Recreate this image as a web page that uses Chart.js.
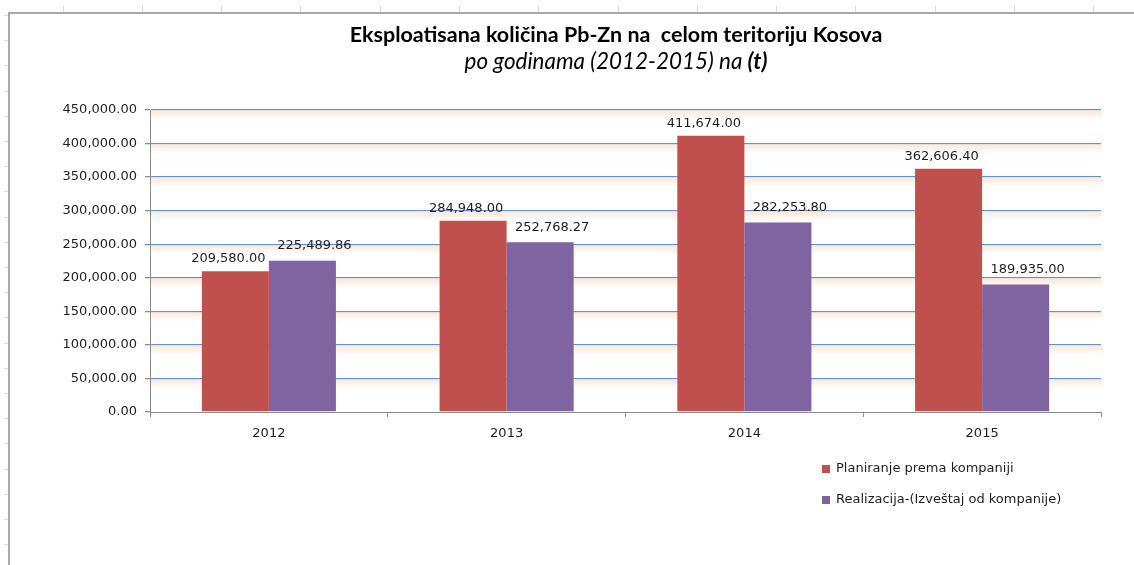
<!DOCTYPE html>
<html>
<head>
<meta charset="utf-8">
<title>Eksploatisana količina Pb-Zn</title>
<script src="https://cdn.jsdelivr.net/npm/chart.js@4/dist/chart.umd.min.js"></script>
<style>
    html, body { margin: 0; padding: 0; background: #ffffff; }
    #wrap { position: relative; width: 1134px; height: 565px; }
</style>
</head>
<body>
<div id="wrap"><canvas id="pbznChart"></canvas></div>
<script>
// === DATA ===
const godine = ['2012', '2013', '2014', '2015'];
const planiranje = [209580.00, 284948.00, 411674.00, 362606.40];
const realizacija = [225489.86, 252768.27, 282253.80, 189935.00];
const serieNazivi = ['Planiranje prema kompaniji', 'Realizacija-(Izveštaj od kompanije)'];
const naslov = 'Eksploatisana količina Pb-Zn na  celom teritoriju Kosova';
const podnaslov = 'po godinama (2012-2015) na ';
const podnaslovJedinica = '(t)';
const yMax = 450000;
const yKorak = 50000;

const boje = ['#C0504D', '#8064A2'];
const FONT = '"DejaVu Sans", sans-serif';
const TITLE_FONT = 'Lato, "Noto Sans", sans-serif';
const TEXT_COLOR = '#1f1f1f';
// labels in the original sit a little off the bar centre, per series
const labelPomak = [{ dx: -7, dy: 6 }, { dx: 12, dy: 8.5 }];

function fmt(v) {
    return v.toLocaleString('en-US', { minimumFractionDigits: 2, maximumFractionDigits: 2 });
}

// font size that makes the text about as wide as in the picture
function fitSize(ctx, parts, target) {
    let w = 0;
    parts.forEach(p => { ctx.font = p.style + ' 20px ' + TITLE_FONT; w += ctx.measureText(p.text).width; });
    return 20 * target / w;
}

// === PLUGIN: frame, title, glow under gridlines, value labels, legend ===
const excelLook = {
    id: 'excelLook',
    beforeDraw(chart) {
        const ctx = chart.ctx;
        ctx.save();
        // document frame + ruler ticks
        ctx.strokeStyle = '#dadada'; ctx.lineWidth = 1;
        for (let x = 62.5; x < chart.width; x += 79.3) {
            ctx.beginPath(); ctx.moveTo(Math.round(x) + 0.5, 6); ctx.lineTo(Math.round(x) + 0.5, 12); ctx.stroke();
        }
        for (let y = 15; y < chart.height; y += 25.2) {
            ctx.beginPath(); ctx.moveTo(4, Math.round(y) + 0.5); ctx.lineTo(8, Math.round(y) + 0.5); ctx.stroke();
        }
        ctx.strokeStyle = '#a8a8a8'; ctx.lineWidth = 2;
        ctx.beginPath(); ctx.moveTo(chart.width, 13); ctx.lineTo(9, 13); ctx.lineTo(9, chart.height); ctx.stroke();

        // title + subtitle
        const cx = 616;
        ctx.fillStyle = '#000000';
        ctx.textBaseline = 'middle';
        ctx.textAlign = 'center';
        const s1 = fitSize(ctx, [{ style: 'bold', text: naslov }], 533);
        ctx.font = 'bold ' + s1 + 'px ' + TITLE_FONT;
        ctx.fillText(naslov, cx, 35);

        const s2 = fitSize(ctx, [{ style: 'italic', text: podnaslov }, { style: 'italic bold', text: podnaslovJedinica }], 303);
        ctx.font = 'italic ' + s2 + 'px ' + TITLE_FONT;
        const w1 = ctx.measureText(podnaslov).width;
        ctx.font = 'italic bold ' + s2 + 'px ' + TITLE_FONT;
        const w2 = ctx.measureText(podnaslovJedinica).width;
        const start = cx - (w1 + w2) / 2;
        ctx.textAlign = 'left';
        ctx.font = 'italic ' + s2 + 'px ' + TITLE_FONT;
        ctx.fillText(podnaslov, start, 62);
        ctx.font = 'italic bold ' + s2 + 'px ' + TITLE_FONT;
        ctx.fillText(podnaslovJedinica, start + w1, 62);
        ctx.restore();
    },
    beforeDatasetsDraw(chart) {
        // soft peach glow under each gridline
        const ctx = chart.ctx, area = chart.chartArea, y = chart.scales.y;
        ctx.save();
        y.ticks.forEach(t => {
            if (t.value === 0) return;
            const py = y.getPixelForValue(t.value);
            const g = ctx.createLinearGradient(0, py + 1, 0, py + 10);
            g.addColorStop(0, 'rgba(252, 213, 185, 0.55)');
            g.addColorStop(1, 'rgba(252, 213, 185, 0)');
            ctx.fillStyle = g;
            ctx.fillRect(area.left + 1, py + 1, area.right - area.left, 9);
        });
        ctx.restore();
    },
    afterDatasetsDraw(chart) {
        const ctx = chart.ctx;
        ctx.save();
        ctx.font = '13px ' + FONT;
        ctx.fillStyle = TEXT_COLOR;
        ctx.textAlign = 'center'; ctx.textBaseline = 'bottom';
        chart.data.datasets.forEach((ds, i) => {
            const p = labelPomak[i];
            chart.getDatasetMeta(i).data.forEach((bar, j) => {
                ctx.fillText(fmt(ds.data[j]), bar.x + p.dx, bar.y - p.dy);
            });
        });
        // legend
        ctx.textAlign = 'left'; ctx.textBaseline = 'middle';
        chart.data.datasets.forEach((ds, i) => {
            const ly = 469 + i * 31;
            ctx.fillStyle = ds.backgroundColor;
            ctx.fillRect(822, ly - 4, 8, 8);
            ctx.fillStyle = TEXT_COLOR;
            ctx.fillText(ds.label, 836, ly);
        });
        ctx.restore();
    }
};

// === CHART ===
const ctx = document.getElementById('pbznChart').getContext('2d');
new Chart(ctx, {
    type: 'bar',
    data: {
        labels: godine,
        datasets: [
            { label: serieNazivi[0], data: planiranje, backgroundColor: boje[0] },
            { label: serieNazivi[1], data: realizacija, backgroundColor: boje[1] }
        ]
    },
    options: {
        responsive: true,
        maintainAspectRatio: false,
        animation: false,
        events: [],
        layout: { padding: { top: 110, right: 33, bottom: 0, left: 0 } },
        datasets: { bar: { barPercentage: 1, categoryPercentage: 0.564 } },
        scales: {
            x: {
                grid: { offset: true, drawOnChartArea: false, drawTicks: true, tickLength: 5, tickColor: '#8c8c8c' },
                border: { color: '#8c8c8c', width: 1 },
                ticks: { color: TEXT_COLOR, font: { family: FONT, size: 13 }, padding: 9, maxRotation: 0 },
                afterFit(scale) { scale.height = 153; }
            },
            y: {
                min: 0, max: yMax,
                grid: {
                    color: c => c.tick && c.tick.value === 0 ? 'rgba(0,0,0,0)' : '#6592d0',
                    lineWidth: 1.3, tickLength: 5, tickColor: '#8c8c8c'
                },
                border: { color: '#8c8c8c', width: 1 },
                ticks: {
                    stepSize: yKorak, padding: 8, color: TEXT_COLOR,
                    font: { family: FONT, size: 13 },
                    callback: v => fmt(v)
                },
                afterFit(scale) { scale.width = 150; }
            }
        },
        plugins: {
            legend: { display: false },
            title: { display: false },
            tooltip: { enabled: false }
        }
    },
    plugins: [excelLook]
});
</script>
</body>
</html>
